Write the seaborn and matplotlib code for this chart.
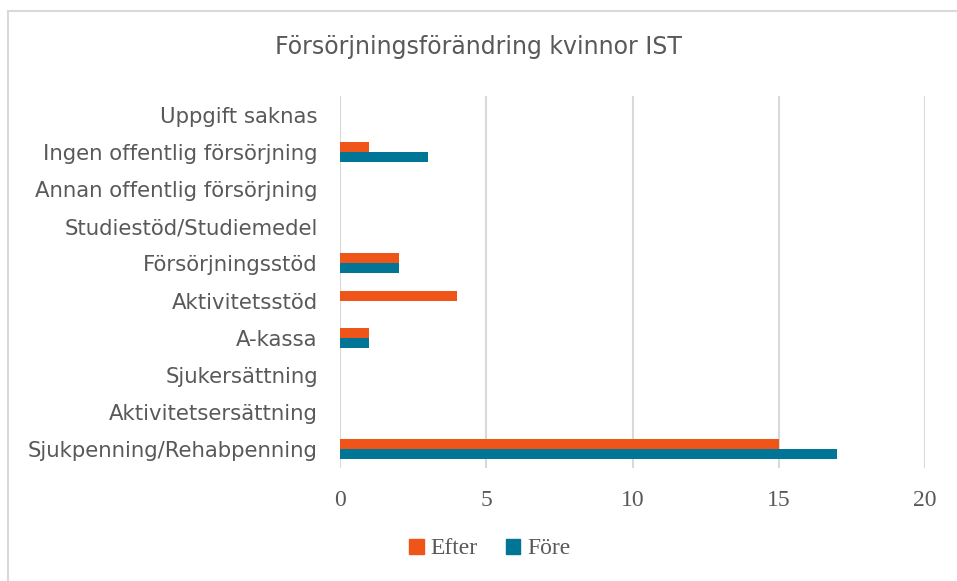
import matplotlib as mpl
import matplotlib.pyplot as plt
import pandas as pd
import seaborn as sns
from matplotlib.lines import Line2D

categories = [
    'Uppgift saknas',
    'Ingen offentlig försörjning',
    'Annan offentlig försörjning',
    'Studiestöd/Studiemedel',
    'Försörjningsstöd',
    'Aktivitetsstöd',
    'A-kassa',
    'Sjukersättning',
    'Aktivitetsersättning',
    'Sjukpenning/Rehabpenning',
]
efter = [0, 1, 0, 0, 2, 4, 1, 0, 0, 15]
fore = [0, 3, 0, 0, 2, 0, 1, 0, 0, 17]
xticks = [0, 5, 10, 15, 20]

df = pd.DataFrame({
    'kategori': categories * 2,
    'antal': efter + fore,
    'grupp': ['Efter'] * len(categories) + ['Före'] * len(categories),
})

sns.set_style('white')
plt.rcParams['font.family'] = ['DejaVu Sans']
grey = '#595959'

fig = plt.figure(figsize=(9.57, 5.81), dpi=100)
ax = fig.add_axes([340 / 957, 1 - 468 / 581, 585 / 957, 372 / 581])

sns.barplot(data=df, y='kategori', x='antal', hue='grupp',
            order=categories, hue_order=['Efter', 'Före'],
            palette={'Efter': '#EF5518', 'Före': '#007596'},
            width=0.54, saturation=1, orient='h', ax=ax, legend=False,
            linewidth=0, edgecolor='none')

ax.set_xlim(0, 20)
ax.set_xticks(xticks)
ax.grid(axis='x', color='#D9D9D9', linewidth=1.5)
ax.set_axisbelow(True)
for s in ax.spines.values():
    s.set_visible(False)
ax.set_xlabel('')
ax.set_ylabel('')
ax.tick_params(axis='both', length=0)
ax.tick_params(axis='y', pad=16, labelsize=15.3, labelcolor=grey)
ax.tick_params(axis='x', pad=16, labelcolor=grey)
for lbl in ax.get_xticklabels():
    lbl.set_fontfamily('Liberation Serif')
    lbl.set_fontsize(17)

fig.text(0.5, 1 - 47 / 581, 'Försörjningsförändring kvinnor IST',
         ha='center', va='center', fontsize=17, color=grey)

handles = [mpl.patches.Patch(color='#EF5518', label='Efter'),
           mpl.patches.Patch(color='#007596', label='Före')]
fig.legend(handles=handles, loc='center', bbox_to_anchor=(490 / 957, 1 - 549 / 581),
           ncol=2, frameon=False, handlelength=0.6, handleheight=0.6,
           handletextpad=0.3, columnspacing=1.2,
           prop={'family': 'Liberation Serif', 'size': 17}, labelcolor=grey)

# chart border (left and top visible)
fig.add_artist(Line2D([8 / 957, 8 / 957], [0, 1 - 11 / 581], color='#D9D9D9', linewidth=1.5))
fig.add_artist(Line2D([8 / 957, 1], [1 - 11 / 581, 1 - 11 / 581], color='#D9D9D9', linewidth=1.5))

fig.savefig('out.png', dpi=100)
